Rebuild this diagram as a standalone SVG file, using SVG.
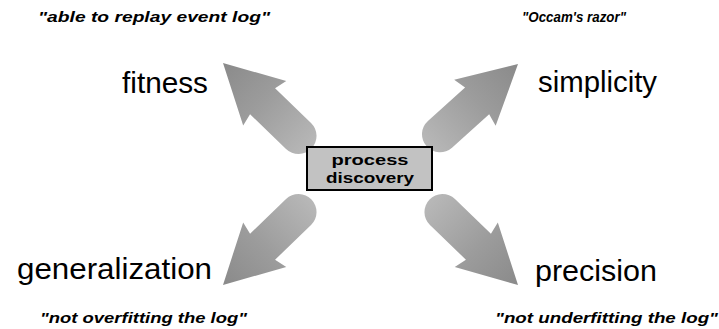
<svg xmlns="http://www.w3.org/2000/svg" width="719" height="329" viewBox="0 0 719 329">
  <defs>
    <linearGradient id="ag" x1="0" y1="0" x2="1" y2="0">
      <stop offset="0" stop-color="#b8b8b8"/>
      <stop offset="0.55" stop-color="#9c9c9c"/>
      <stop offset="1" stop-color="#8a8a8a"/>
    </linearGradient>
    <path id="arrow" d="M0,0 L-58,-31 L-55,-18 L-105,-18 A18,18 0 0 0 -105,18 L-55,18 L-58,31 Z"/>
  </defs>
  <style>
    .lbl { font-family: "Liberation Sans", Arial, sans-serif; font-size: 30px; fill: #000; }
    .q { font-family: "Liberation Sans", Arial, sans-serif; font-size: 14px; font-weight: bold; font-style: italic; fill: #000; }
    .box { fill: #c2c2c2; stroke: #000; stroke-width: 2; }
    .bt { font-family: "Liberation Sans", Arial, sans-serif; font-size: 15px; font-weight: bold; fill: #000; text-anchor: middle; }
    .arr { fill: url(#ag); }
  </style>
  <g id="connectors">
    <use href="#arrow" class="arr" transform="translate(223,63) rotate(-136)"/>
    <use href="#arrow" class="arr" transform="translate(518,64) rotate(-42)"/>
    <use href="#arrow" class="arr" transform="translate(223,285) rotate(136)"/>
    <use href="#arrow" class="arr" transform="translate(518,285) rotate(44)"/>
  </g>
  <g id="center">
    <rect class="box" x="307" y="147" width="125" height="43"/>
    <text class="bt" x="370" y="165" textLength="77" lengthAdjust="spacingAndGlyphs">process</text>
    <text class="bt" x="370" y="183" textLength="88" lengthAdjust="spacingAndGlyphs">discovery</text>
  </g>
  <g id="fitness">
    <text class="lbl" x="122" y="93" textLength="86" lengthAdjust="spacingAndGlyphs">fitness</text>
    <text class="q" x="38" y="22" textLength="232" lengthAdjust="spacingAndGlyphs">"able to replay event log"</text>
  </g>
  <g id="simplicity">
    <text class="lbl" x="538" y="92" textLength="119" lengthAdjust="spacingAndGlyphs">simplicity</text>
    <text class="q" x="522" y="22" textLength="104" lengthAdjust="spacingAndGlyphs">"Occam's razor"</text>
  </g>
  <g id="generalization">
    <text class="lbl" x="17" y="279" textLength="195" lengthAdjust="spacingAndGlyphs">generalization</text>
    <text class="q" x="40" y="323" textLength="207" lengthAdjust="spacingAndGlyphs">"not overfitting the log"</text>
  </g>
  <g id="precision">
    <text class="lbl" x="535" y="281" textLength="122" lengthAdjust="spacingAndGlyphs">precision</text>
    <text class="q" x="495" y="323" textLength="223" lengthAdjust="spacingAndGlyphs">"not underfitting the log"</text>
  </g>
</svg>
